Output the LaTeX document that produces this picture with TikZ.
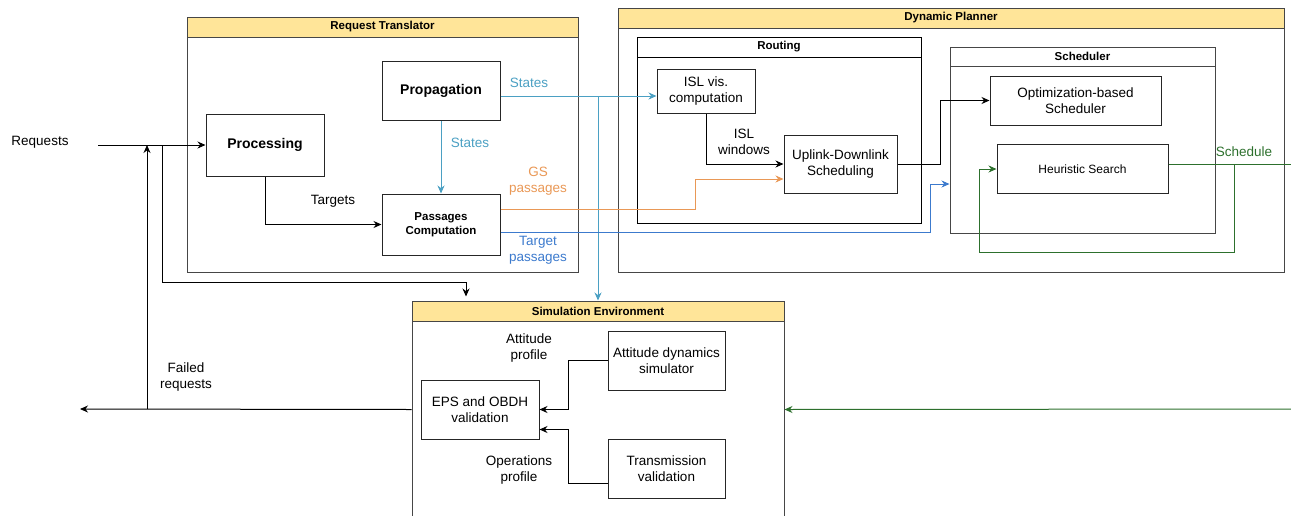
\documentclass[tikz,border=0pt]{standalone}
\usepackage{fontspec}
\setmainfont{Liberation Sans}
\usepackage{xcolor}
\usetikzlibrary{arrows.meta,positioning,calc}

\definecolor{hdryellow}{RGB}{255,229,153}
\definecolor{framegray}{RGB}{70,70,70}
\definecolor{statecol}{RGB}{75,160,195}
\definecolor{gscol}{RGB}{233,152,86}
\definecolor{tgtcol}{RGB}{60,122,205}
\definecolor{schedcol}{RGB}{45,112,45}

\begin{document}
\begin{tikzpicture}[x=1pt, y=-1pt,
    >={Stealth[length=8pt,width=7pt]},
    panel/.style={draw=framegray, line width=1pt, inner sep=0pt},
    band/.style={draw=framegray, fill=hdryellow, line width=1pt, inner sep=0pt,
        font=\fontsize{11.5}{13}\selectfont\bfseries},
    block/.style={draw=black!85, line width=1pt, fill=white, align=center, inner sep=2pt,
        font=\fontsize{13.5}{16.5}\selectfont},
    lbl/.style={align=center, font=\fontsize{13.5}{16.5}\selectfont},
    link/.style={line width=1pt, ->}]

    \clip (0,0) rectangle (1291,515);

    % containers
    \node[panel, minimum width=391pt, minimum height=255pt] (translator) at (382.5,144.5) {};
    \node[band, minimum width=391pt, minimum height=20pt, anchor=north] (translatorhead) at (translator.north) {Request Translator};

    \node[panel, minimum width=666pt, minimum height=264pt] (planner) at (951,140) {};
    \node[band, minimum width=666pt, minimum height=20pt, anchor=north] (plannerhead) at (planner.north) {Dynamic Planner};

    \node[panel, draw=black, minimum width=284pt, minimum height=186pt] (routing) at (779,130) {};
    \node[band, draw=black, fill=white, minimum width=284pt, minimum height=20pt, anchor=north] (routinghead) at (routing.north) {Routing};

    \node[panel, minimum width=265pt, minimum height=186pt] (scheduler) at (1082.5,140) {};
    \node[band, fill=white, minimum width=265pt, minimum height=19pt, anchor=north] (schedulerhead) at (scheduler.north) {Scheduler};

    \node[panel, minimum width=372pt, minimum height=240pt] (simenv) at (598,421) {};
    \node[band, minimum width=372pt, minimum height=20pt, anchor=north] (simenvhead) at (simenv.north) {Simulation Environment};

    % blocks
    \node[block, minimum width=118pt, minimum height=59pt, font=\fontsize{14}{17}\selectfont\bfseries] (propagation) at (441,91) {Propagation};
    \node[block, minimum width=118pt, minimum height=62pt, font=\fontsize{14}{17}\selectfont\bfseries] (processing) at (265,145) {Processing};
    \node[block, minimum width=118pt, minimum height=61pt, font=\fontsize{11.5}{14.5}\selectfont\bfseries] (passages) at (441,224.5) {Passages\\Computation};
    \node[block, minimum width=98pt, minimum height=44pt] (islvis) at (706,91) {ISL vis.\\computation};
    \node[block, minimum width=113pt, minimum height=58pt] (uplink) at (840.5,164) {Uplink-Downlink\\Scheduling};
    \node[block, minimum width=171pt, minimum height=49pt] (optim) at (1075.5,100.5) {Optimization-based\\Scheduler};
    \node[block, minimum width=171pt, minimum height=49pt, font=\fontsize{12}{14}\selectfont] (heuristic) at (1082.5,169) {Heuristic Search};
    \node[block, minimum width=118pt, minimum height=59pt] (eps) at (480,409.5) {EPS and OBDH\\validation};
    \node[block, minimum width=117pt, minimum height=59pt] (attitude) at (666.5,360.5) {Attitude dynamics\\simulator};
    \node[block, minimum width=117pt, minimum height=59pt] (transmission) at (666.5,468.5) {Transmission\\validation};

    \coordinate (reqstart) at (98,145);
    \coordinate (fork) at (162,145);
    \coordinate (failfork) at (147,409);
    \coordinate (failend) at (80,409);
    \coordinate (statefork) at (598,96);
    \coordinate (schedout) at (1296,164);
    \coordinate (schedin) at (1296,409);

    % request flow
    \node[lbl] (reqlabel) at (40,142) {Requests};
    \draw[link] (reqstart) -- (processing.west);
    \draw[link] (fork) -- (fork |- 0,282) -| ([xshift=-132pt,yshift=4pt]simenv.north);
    \draw[link] (processing.south) |- (passages.west);
    \node[lbl] (targetslabel) at (333,201) {Targets};

    % orbit data
    \draw[link, statecol] (propagation.south) -- (passages.north);
    \node[lbl, text=statecol] (stateslabel) at (470,143) {States};
    \draw[link, statecol] ([yshift=-5pt]propagation.east) -- ([yshift=-5pt]islvis.west);
    \draw[link, statecol] (statefork) -- (statefork |- simenv.north);
    \node[lbl, text=statecol] (stateslabeltop) at (529,83) {States};

    \draw[link, gscol] ([yshift=15.5pt]passages.east) -- ++(195,0) |- ([yshift=-15pt]uplink.west);
    \node[lbl, text=gscol] (gslabel) at (538,181) {GS\\passages};
    \draw[link, tgtcol] ([yshift=-8pt]passages.east) -- ++(430,0) |- ([yshift=-44pt]scheduler.west);
    \node[lbl, text=tgtcol] (tgtlabel) at (538,250) {Target\\passages};

    % routing and scheduling
    \draw[link] (islvis.south) |- (uplink.west);
    \node[lbl] (windowslabel) at (744,142) {ISL\\windows};
    \draw[link] (uplink.east) -- ++(43,0) |- (optim.west);

    \draw[line width=1pt, schedcol] ([yshift=5pt]heuristic.east) -- (schedout);
    \draw[link, schedcol] ([yshift=5pt]heuristic.east) -- ++(66,0) -- ++(0,88) -| ([xshift=-17pt]heuristic.west) -- (heuristic.west);
    \node[lbl, text=schedcol] (schedlabel) at (1244,152) {Schedule};
    \draw[link, schedcol] (schedin) -- (simenv.east |- eps);

    % simulation
    \draw[link] (attitude.west) -- ++(-39,0) |- (eps.east);
    \node[lbl] (attlabel) at (529,348) {Attitude\\profile};
    \draw[link] ([yshift=-14.5pt]transmission.west) -- ++(-39,0) |- ([yshift=-20pt]eps.east);
    \node[lbl] (opslabel) at (519,470) {Operations\\profile};

    \draw[link] (simenv.west |- eps) -- (failend);
    \draw[link] (failfork) -- (failfork |- reqstart);
    \node[lbl] (faillabel) at (186,377) {Failed\\requests};
\end{tikzpicture}
\end{document}
